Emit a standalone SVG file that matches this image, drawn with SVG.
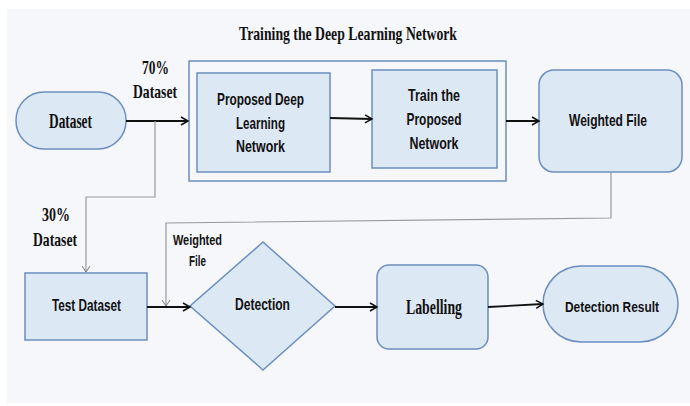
<svg xmlns="http://www.w3.org/2000/svg" width="690" height="406" viewBox="0 0 690 406">
<defs>
<marker id="ah" markerWidth="10" markerHeight="10" refX="8" refY="5" orient="auto" markerUnits="userSpaceOnUse">
<path d="M1,1 L8,5 L1,9" fill="none" stroke="#111" stroke-width="1.5"/>
</marker>
<style>
.nd{fill:#dde8f5;stroke:#6c8ebf;stroke-width:1.5}
.sf{font-family:"Liberation Serif","Times New Roman",serif;font-weight:bold;fill:#111}
.ss{font-family:"Liberation Sans",Arial,sans-serif;font-weight:bold;fill:#111}
.bk{fill:none;stroke:#111;stroke-width:1.8}
.gr{fill:none;stroke:#999;stroke-width:1.2}
.gh{fill:none;stroke:#777;stroke-width:1}
</style>
</defs>
<rect x="0" y="0" width="690" height="406" fill="#fff"/>
<rect x="7" y="9" width="683" height="394" fill="#f5f7fb"/>

<g id="title">
<text class="sf" x="348" y="40" font-size="19" text-anchor="middle" textLength="218" lengthAdjust="spacingAndGlyphs">Training the Deep Learning Network</text>
</g>

<g id="training-group">
<rect x="189" y="61" width="317" height="120" fill="none" stroke="#6c8ebf" stroke-width="1.5"/>
</g>

<g id="dataset">
<rect class="nd" x="16" y="92" width="110" height="57" rx="28"/>
<text class="sf" x="70.5" y="128" font-size="20" text-anchor="middle" textLength="43" lengthAdjust="spacingAndGlyphs">Dataset</text>
</g>

<g id="proposed">
<rect class="nd" x="197" y="73" width="133" height="99"/>
<text class="ss" x="260.5" y="105" font-size="17" text-anchor="middle" textLength="87" lengthAdjust="spacingAndGlyphs">Proposed Deep</text>
<text class="ss" x="260.5" y="129" font-size="17" text-anchor="middle" textLength="49" lengthAdjust="spacingAndGlyphs">Learning</text>
<text class="ss" x="260.5" y="152" font-size="17" text-anchor="middle" textLength="49" lengthAdjust="spacingAndGlyphs">Network</text>
</g>

<g id="train">
<rect class="nd" x="372" y="70" width="125" height="98"/>
<text class="ss" x="434" y="101" font-size="17" text-anchor="middle" textLength="52" lengthAdjust="spacingAndGlyphs">Train the</text>
<text class="ss" x="434" y="125" font-size="17" text-anchor="middle" textLength="55" lengthAdjust="spacingAndGlyphs">Proposed</text>
<text class="ss" x="434" y="149" font-size="17" text-anchor="middle" textLength="49" lengthAdjust="spacingAndGlyphs">Network</text>
</g>

<g id="weighted">
<rect class="nd" x="539" y="70" width="143" height="102" rx="15"/>
<text class="ss" x="608" y="126" font-size="17" text-anchor="middle" textLength="78" lengthAdjust="spacingAndGlyphs">Weighted File</text>
</g>

<g id="test">
<rect class="nd" x="25" y="273" width="122" height="67"/>
<text class="ss" x="86.5" y="311" font-size="17" text-anchor="middle" textLength="69" lengthAdjust="spacingAndGlyphs">Test Dataset</text>
</g>

<g id="detection">
<polygon class="nd" points="263,242 335,306 263,370 190,306"/>
<text class="ss" x="262.5" y="310" font-size="17" text-anchor="middle" textLength="55" lengthAdjust="spacingAndGlyphs">Detection</text>
</g>

<g id="labelling">
<rect class="nd" x="377" y="265" width="111" height="84" rx="12"/>
<text class="sf" x="434" y="314" font-size="20" text-anchor="middle" textLength="56" lengthAdjust="spacingAndGlyphs">Labelling</text>
</g>

<g id="result">
<rect class="nd" x="543" y="266" width="135" height="76" rx="38"/>
<text class="ss" x="612" y="312" font-size="15" text-anchor="middle" textLength="94" lengthAdjust="spacingAndGlyphs">Detection Result</text>
</g>

<g id="labels">
<text class="sf" x="155.5" y="74" font-size="19" text-anchor="middle" textLength="27" lengthAdjust="spacingAndGlyphs">70%</text>
<text class="sf" x="155" y="98" font-size="19" text-anchor="middle" textLength="44" lengthAdjust="spacingAndGlyphs">Dataset</text>
<text class="sf" x="56" y="221" font-size="19" text-anchor="middle" textLength="28" lengthAdjust="spacingAndGlyphs">30%</text>
<text class="sf" x="55" y="246" font-size="19" text-anchor="middle" textLength="44" lengthAdjust="spacingAndGlyphs">Dataset</text>
<text class="ss" x="197.5" y="245" font-size="14" text-anchor="middle" textLength="49" lengthAdjust="spacingAndGlyphs">Weighted</text>
<text class="ss" x="197.5" y="266" font-size="14" text-anchor="middle" textLength="17" lengthAdjust="spacingAndGlyphs">File</text>
</g>

<g id="connectors">
<line class="bk" x1="126" y1="121" x2="188" y2="121" marker-end="url(#ah)"/>
<line class="bk" x1="330" y1="118" x2="372" y2="119" marker-end="url(#ah)"/>
<line class="bk" x1="506" y1="121" x2="539" y2="121" marker-end="url(#ah)"/>
<line class="bk" x1="147" y1="307" x2="190" y2="307" marker-end="url(#ah)"/>
<line class="bk" x1="335" y1="307" x2="377" y2="307" marker-end="url(#ah)"/>
<line class="bk" x1="488" y1="307" x2="543" y2="304" marker-end="url(#ah)"/>
<polyline class="gr" points="155,121 155,197 86,197 86,272"/>
<path class="gh" d="M82,266 L86,272 L90,266"/>
<polyline class="gr" points="611,172 611,218 166,223 166,306"/>
<path class="gh" d="M162,300 L166,306 L170,300"/>
</g>
</svg>
